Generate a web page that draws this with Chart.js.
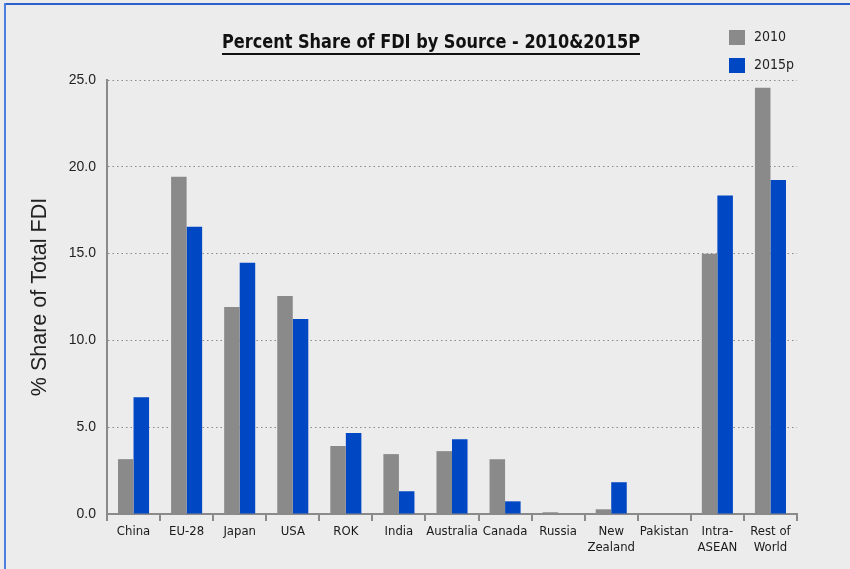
<!DOCTYPE html>
<html>
<head>
<meta charset="utf-8">
<script src="https://cdn.jsdelivr.net/npm/chart.js@4.4.1/dist/chart.umd.min.js"></script>
<style>
  html, body { margin: 0; padding: 0; background: #ececec; }
  #wrap { position: relative; width: 850px; height: 569px; overflow: hidden; }
  #myChart { position: absolute; left: 0; top: 0; }
  .edge { position: absolute; pointer-events: none; }
  #edgeTop { left: 4px; top: 3px; width: 846px; height: 2px; background: #2b5fc9; }
  #edgeLeft { left: 4px; top: 3px; width: 2px; height: 566px; background: #4a7fe0; }
</style>
</head>
<body>
<div id="wrap">
  <canvas id="myChart" width="850" height="569"></canvas>
  <div class="edge" id="edgeTop"></div>
  <div class="edge" id="edgeLeft"></div>
</div>
<script>
var labelData = ['China', 'EU-28', 'Japan', 'USA', 'ROK', 'India', 'Australia', 'Canada',
  'Russia', ['New', 'Zealand'], 'Pakistan', ['Intra-', 'ASEAN'], ['Rest of', 'World']];
var share2010 = [3.16, 19.43, 11.93, 12.56, 3.91, 3.45, 3.62, 3.16, 0.10, 0.27, 0, 14.99, 24.56];
var share2015 = [6.73, 16.54, 14.47, 11.23, 4.66, 1.31, 4.31, 0.73, 0, 1.83, 0, 18.34, 19.24];
var seriesNames = ['2010', '2015p'];
var yTicks = [0, 5, 10, 15, 20, 25];

var titleText = 'Percent Share of FDI by Source - 2010&2015P';
var narrow = '"DejaVu Sans Condensed", "Liberation Sans Narrow", sans-serif';

Chart.defaults.font.family = 'Liberation Sans, Arial, sans-serif';
Chart.defaults.color = '#222';

// underlined title + stacked legend in the top right corner
const decorations = {
  id: 'decorations',
  afterDraw(chart) {
    const c = chart.ctx;
    c.save();
    c.fillStyle = '#111';
    c.font = 'bold 20px ' + narrow;
    c.textBaseline = 'alphabetic';
    c.textAlign = 'left';
    const left = 222, right = 640, by = 48;
    const w = c.measureText(titleText).width;
    const sx = (right - left) / w;
    c.save();
    c.translate(left, by);
    c.scale(sx, 1);
    c.fillText(titleText, 0, 0);
    c.restore();
    c.fillRect(left, by + 5, right - left, 2);

    c.font = '14px ' + narrow;
    c.textBaseline = 'middle';
    chart.data.datasets.forEach(function (ds, i) {
      const y = 30 + i * 28;
      c.fillStyle = ds.backgroundColor;
      c.fillRect(729, y, 16, 15);
      c.fillStyle = '#222';
      c.fillText(ds.label, 754, y + 7);
    });
    c.restore();
  }
};

const ctx = document.getElementById('myChart');
new Chart(ctx, {
  type: 'bar',
  data: {
    labels: labelData,
    datasets: [
      { label: seriesNames[0], data: share2010, backgroundColor: '#8a8a8a' },
      { label: seriesNames[1], data: share2015, backgroundColor: '#0047c4' }
    ]
  },
  options: {
    responsive: false,
    animation: false,
    datasets: { bar: { categoryPercentage: 0.585, barPercentage: 1.0 } },
    layout: { padding: { top: 80, left: 22, right: 53, bottom: 0 } },
    plugins: {
      legend: { display: false },
      tooltip: { enabled: false }
    },
    scales: {
      x: {
        grid: { drawOnChartArea: false, drawTicks: true, tickLength: 7, color: '#8a8a8a', lineWidth: 2 },
        border: { color: '#8a8a8a', width: 2 },
        ticks: {
          padding: 3, maxRotation: 0, autoSkip: false, color: '#1a1a1a',
          font: { family: narrow, size: 13 }
        },
        afterFit(scale) { scale.height = 55; }
      },
      y: {
        min: 0, max: 25,
        afterBuildTicks(scale) { scale.ticks = yTicks.map(v => ({ value: v })); },
        grid: { color: '#8a8a8a', lineWidth: 1, drawTicks: false },
        // in v4 border.dash styles the grid lines
        border: { color: '#8a8a8a', width: 2, dash: [1.5, 3] },
        ticks: {
          padding: 11, color: '#222',
          font: { size: 14 },
          callback: v => v.toFixed(1)
        },
        title: {
          display: true, text: '% Share of Total FDI', color: '#222',
          font: { size: 21.5 }, padding: { top: 5, bottom: 0 }
        },
        afterFit(scale) { scale.width = 85; }
      }
    }
  },
  plugins: [decorations]
});
</script>
</body>
</html>
